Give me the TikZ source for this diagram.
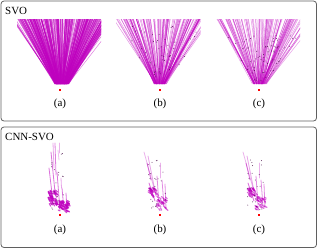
\documentclass[tikz,border=0pt]{standalone}
\usepackage{fontspec}
\setmainfont{Liberation Serif}
\definecolor{fanc}{RGB}{190,0,190}
\definecolor{dotc}{RGB}{60,0,60}
\definecolor{framec}{RGB}{95,95,95}
\tikzset{
  frame/.style={draw=framec, line width=0.8bp, rounded corners=3bp},
  lbl/.style={font=\fontsize{11}{13}\selectfont, inner sep=0pt},
  fanline/.style={draw=fanc, line width=0.5bp, opacity=0.5},
  cnnline/.style={draw=fanc, line width=0.8bp, opacity=0.55, line cap=round},
  blobline/.style={draw=fanc, line width=1.2bp, opacity=0.7, line cap=round},
  darkdot/.style={fill=dotc, opacity=0.8},
  reddot/.style={fill=red, minimum size=1.3bp, inner sep=0pt, draw=none, rectangle},
}
\begin{document}
\begin{tikzpicture}[x=1bp,y=-1bp]
\useasboundingbox (0,0) rectangle (318,249);
\pgfmathsetseed{7}
% frames
\draw[frame] (1,1) rectangle (316.5,121);
\draw[frame] (1,127) rectangle (316.5,247.5);
\node[lbl, anchor=west] (svo) at (5,10.5) {SVO};
\node[lbl, anchor=west] (cnn) at (5,136.5) {CNN-SVO};
% ---------- SVO (a)
\begin{scope}
  \clip (17,19) rectangle (101,85);
  \foreach \i in {1,...,360}{
    \pgfmathsetmacro\u{rnd}
    \pgfmathsetmacro\xa{55.5+12.5*\u+2*(rnd-0.5)}
    \pgfmathsetmacro\xb{17+96*\u+12*(rnd-0.5)}
    \draw[fanline] (\xa,84) -- (\xb,19);
  }
\end{scope}
% ---------- SVO (b)
\begin{scope}
  \clip (116,19) rectangle (200.5,85);
  \foreach \i in {1,...,140}{
    \pgfmathsetmacro\u{rnd}
    \pgfmathsetmacro\xa{154.5+11*\u+3*(rnd-0.5)}
    \pgfmathsetmacro\xb{116+96*\u+16*(rnd-0.5)}
    \draw[fanline, opacity=0.42] (\xa,84) -- (\xb,19);
  }
  \foreach \i in {1,...,45}{
    \pgfmathsetmacro\u{rnd}
    \pgfmathsetmacro\t{0.1+0.8*rnd}
    \pgfmathsetmacro\xa{154.5+11*\u}
    \pgfmathsetmacro\xb{116+96*\u}
    \pgfmathsetmacro\px{\xa+(\xb-\xa)*\t}
    \pgfmathsetmacro\py{84-65*\t}
    \fill[darkdot] (\px,\py) circle (0.5);
  }
\end{scope}
% ---------- SVO (c)
\begin{scope}
  \clip (216,19) rectangle (300,85);
  \foreach \i in {1,...,120}{
    \pgfmathsetmacro\u{rnd}
    \pgfmathsetmacro\xa{253.5+12*\u+3*(rnd-0.5)}
    \pgfmathsetmacro\xb{216+96*\u+16*(rnd-0.5)}
    \draw[fanline, opacity=0.38] (\xa,84) -- (\xb,19);
  }
  \foreach \i in {1,...,70}{
    \pgfmathsetmacro\u{rnd}
    \pgfmathsetmacro\t{0.05+0.7*rnd}
    \pgfmathsetmacro\xa{253.5+12*\u}
    \pgfmathsetmacro\xb{216+96*\u}
    \pgfmathsetmacro\px{\xa+(\xb-\xa)*\t}
    \pgfmathsetmacro\py{84-65*\t}
    \fill[darkdot] (\px,\py) circle (0.5);
  }
\end{scope}
% red dots and labels, top
\node[reddot] (ra) at (60,90) {};
\node[reddot] (rb) at (160,90) {};
\node[reddot] (rc) at (259,90) {};
\node[lbl] (la) at (60,103.5) {(a)};
\node[lbl] (lb) at (160,103.5) {(b)};
\node[lbl] (lc) at (259,103.5) {(c)};
% ---------- CNN-SVO (a)
\begin{scope}[shift={(60,0)}]
  \draw[cnnline, opacity=0.35] (-7,143) -- (-6,168);
  \draw[cnnline, opacity=0.5] (-5,143) -- (-4,175);
  \draw[cnnline, opacity=0.3] (-1,143) -- (-1,153);
  \draw[cnnline, opacity=0.25] (-2,150) -- (-1,160);
  \draw[cnnline] (-9,152) -- (-5,192);
  \draw[cnnline] (-11,168) -- (-7,202);
  \draw[cnnline, opacity=0.35] (1,178) -- (1.5,188);
  \draw[cnnline] (-3,172) -- (0,210);
  \draw[cnnline] (2,188) -- (4,210);
  \draw[cnnline] (6,193) -- (7,210);
  \foreach \i in {1,...,45}{
    \pgfmathsetmacro\px{-12+8*rnd}
    \pgfmathsetmacro\py{190+14*rnd}
    \draw[blobline] (\px,\py) -- ++(1+2*rnd,1+3*rnd);
  }
  \foreach \i in {1,...,55}{
    \pgfmathsetmacro\px{-2+10*rnd}
    \pgfmathsetmacro\py{200+11*rnd}
    \draw[blobline] (\px,\py) -- ++(1+2*rnd,0.5+2*rnd);
  }
  \foreach \i in {1,...,18}{
    \pgfmathsetmacro\px{-9+14*rnd}
    \pgfmathsetmacro\py{150+60*rnd}
    \fill[darkdot] (\px,\py) circle (0.5);
  }
  \node[reddot] (rd) at (0,215) {};
  \node[lbl] (ld) at (0,229.5) {(a)};
\end{scope}
% ---------- CNN-SVO (b), (c)
\foreach \cx/\nm in {160/b,259/c}{
\begin{scope}[shift={(\cx,0)}]
  \draw[cnnline, opacity=0.3] (-16,152) -- (-6,188);
  \draw[cnnline, opacity=0.35] (-12,156) -- (-4,196);
  \draw[cnnline, opacity=0.5] (-13,163) -- (-9,180);
  \draw[cnnline, opacity=0.3] (0,163) -- (0,178);
  \draw[cnnline] (-11,183) -- (-5,201);
  \draw[cnnline, opacity=0.45] (-3,176) -- (-1,205);
  \draw[cnnline, opacity=0.45] (2,180) -- (4,206);
  \draw[cnnline, opacity=0.45] (5,184) -- (6,208);
  \foreach \i in {1,...,24}{
    \pgfmathsetmacro\px{-12+8*rnd}
    \pgfmathsetmacro\py{187+8*rnd}
    \draw[blobline, opacity=0.6] (\px,\py) -- ++(1+2*rnd,1+2*rnd);
  }
  \foreach \i in {1,...,32}{
    \pgfmathsetmacro\px{-4+10*rnd}
    \pgfmathsetmacro\py{196+13*rnd}
    \draw[blobline, opacity=0.55] (\px,\py) -- ++(1+2*rnd,0.5+2*rnd);
  }
  \foreach \i in {1,...,25}{
    \pgfmathsetmacro\px{-12+18*rnd}
    \pgfmathsetmacro\py{160+50*rnd}
    \fill[darkdot] (\px,\py) circle (0.5);
  }
  \node[reddot] (rr\nm) at (0,215) {};
  \node[lbl] (ll\nm) at (0,229.5) {(\nm)};
\end{scope}
}
\end{tikzpicture}
\end{document}
